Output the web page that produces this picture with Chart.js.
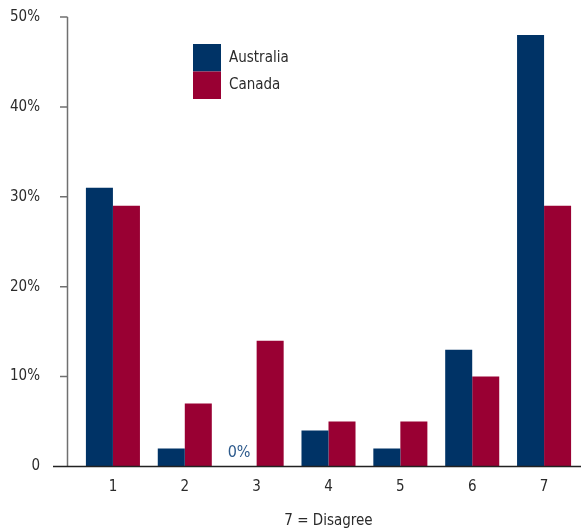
<!DOCTYPE html>
<html>
<head>
<meta charset="utf-8">
<script src="https://cdn.jsdelivr.net/npm/chart.js@4.4.1/dist/chart.umd.min.js"></script>
<style>
  html, body { margin: 0; padding: 0; background: #fff; }
  #wrap { width: 581px; height: 530px; }
</style>
</head>
<body>
<div id="wrap"><canvas id="chart"></canvas></div>
<script>
Chart.defaults.font.family = '"DejaVu Sans Condensed", "Liberation Sans Narrow", "Liberation Sans", sans-serif';
Chart.defaults.font.size = 15;
Chart.defaults.color = '#2b2b2b';

// data
const categories = ['1', '2', '3', '4', '5', '6', '7'];
const australia = [31, 2, 0, 4, 2, 13, 48];
const canada = [29, 7, 14, 5, 5, 10, 29];
const seriesNames = ['Australia', 'Canada'];
const seriesColors = ['#003366', '#990033'];
const xTitle = '7 = Disagree';

// axis lines, tick marks, legend and the 0% note
const extras = {
    id: 'extras',
    afterDraw(chart) {
        const ctx = chart.ctx;
        const y = chart.scales.y;
        const zero = y.getPixelForValue(0);
        ctx.save();

        // y axis
        ctx.strokeStyle = '#707070';
        ctx.lineWidth = 1.5;
        ctx.beginPath();
        ctx.moveTo(67.5, y.getPixelForValue(50));
        ctx.lineTo(67.5, zero);
        y.ticks.forEach(t => {
            const py = y.getPixelForValue(t.value);
            if (t.value > 0) {
                ctx.moveTo(60, py);
                ctx.lineTo(67.5, py);
            }
        });
        ctx.stroke();

        // x axis
        ctx.strokeStyle = '#222';
        ctx.lineWidth = 1.5;
        ctx.beginPath();
        ctx.moveTo(53, zero);
        ctx.lineTo(chart.width, zero);
        ctx.stroke();

        // legend
        seriesNames.forEach((name, i) => {
            ctx.fillStyle = seriesColors[i];
            ctx.fillRect(193, 44 + i * 27.5, 28, 27.5);
            ctx.fillStyle = '#2b2b2b';
            ctx.font = '15px ' + Chart.defaults.font.family;
            ctx.textBaseline = 'middle';
            ctx.textAlign = 'left';
            ctx.fillText(name, 229, 58 + i * 27.5);
        });

        // 0% note on the empty bar
        const meta = chart.getDatasetMeta(0);
        australia.forEach((v, i) => {
            if (v === 0) {
                ctx.fillStyle = '#2d5a8c';
                ctx.font = '16px ' + Chart.defaults.font.family;
                ctx.textAlign = 'center';
                ctx.textBaseline = 'middle';
                ctx.fillText('0%', meta.data[i].x - 4, zero - 14);
            }
        });
        ctx.restore();
    }
};

const config = {
    type: 'bar',
    data: {
        labels: categories,
        datasets: [
            { label: seriesNames[0], data: australia, backgroundColor: seriesColors[0] },
            { label: seriesNames[1], data: canada, backgroundColor: seriesColors[1] }
        ]
    },
    options: {
        responsive: true,
        maintainAspectRatio: false,
        animation: false,
        layout: { padding: { top: 17, right: 1, left: 0, bottom: 0 } },
        datasets: {
            bar: { barPercentage: 1, categoryPercentage: 0.752 }
        },
        plugins: {
            legend: { display: false },
            tooltip: { enabled: false }
        },
        scales: {
            x: {
                grid: { display: false, drawTicks: false },
                border: { display: false },
                ticks: { padding: 12, font: { size: 15 } },
                title: { display: true, text: xTitle, padding: 0, font: { size: 15 } },
                afterFit(scale) { scale.height = 63.5; }
            },
            y: {
                min: 0,
                max: 50,
                grid: { display: false, drawTicks: false },
                border: { display: false },
                ticks: {
                    stepSize: 10,
                    padding: 37,
                    font: { size: 15 },
                    callback: v => v === 0 ? '0' : v + '%'
                },
                afterFit(scale) {
                    scale.width = 77;
                    scale.paddingTop = 0;
                    scale.paddingBottom = 0;
                }
            }
        }
    },
    plugins: [extras]
};

const chart = new Chart(document.getElementById('chart'), config);
</script>
</body>
</html>
